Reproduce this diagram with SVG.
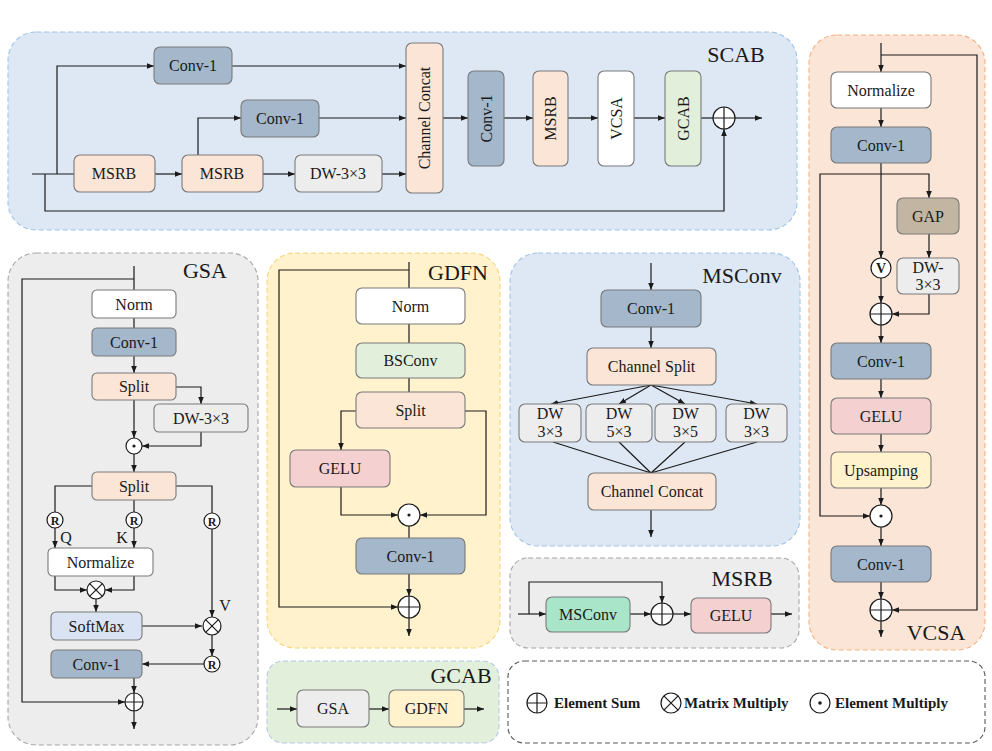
<svg xmlns="http://www.w3.org/2000/svg" width="992" height="751" viewBox="0 0 992 751">
<defs>
<marker id="ah" viewBox="0 0 10 10" refX="10" refY="5" markerWidth="7" markerHeight="7" markerUnits="userSpaceOnUse" orient="auto"><path d="M0,1 L10,5 L0,9 z" fill="#1a1a1a"/></marker>
<style>
text{font-family:"Liberation Serif","Times New Roman",serif;fill:#1a1a1a}
.t{font-size:16px;text-anchor:middle}
.ttl{font-size:22px;text-anchor:middle}
.lg{font-size:15px;font-weight:bold}
.r{font-size:12px;font-weight:bold;text-anchor:middle}
.n{stroke:#7a7a7a;stroke-width:1.1}
.conv{fill:#a4b7cb}
.peach{fill:#fbe5d6}
.gray{fill:#ededed}
.white{fill:#ffffff}
.green{fill:#e2efda}
.pink{fill:#f4d0d0}
.yellow{fill:#fff2cc}
.c{fill:none;stroke:#1a1a1a;stroke-width:1.2}
.a{marker-end:url(#ah)}
.sym{fill:#fff;stroke:#1a1a1a;stroke-width:1.2}
.panel{stroke-width:1.1;stroke-dasharray:5 3}
</style>
</defs>

<!-- Panels -->
<g id="panel-scab"><rect x="8" y="32" width="789" height="198" rx="28" fill="#dee8f5" stroke="#9dc3e6" class="panel"/><text x="736" y="62" class="ttl">SCAB</text></g>
<g id="panel-gsa"><rect x="8" y="253" width="250" height="492" rx="28" fill="#ededed" stroke="#a6a6a6" class="panel"/><text x="205" y="278" class="ttl">GSA</text></g>
<g id="panel-gdfn"><rect x="267" y="253" width="233" height="395" rx="28" fill="#fff2cc" stroke="#f6d57a" class="panel"/><text x="458" y="280" class="ttl">GDFN</text></g>
<g id="panel-msconv"><rect x="510" y="253" width="290" height="293" rx="28" fill="#dee8f5" stroke="#9dc3e6" class="panel"/><text x="742" y="283" class="ttl">MSConv</text></g>
<g id="panel-msrb"><rect x="510" y="558" width="289" height="90" rx="18" fill="#ededed" stroke="#a6a6a6" class="panel"/><text x="742" y="586" class="ttl">MSRB</text></g>
<g id="panel-vcsa"><rect x="809" y="35" width="176" height="615" rx="28" fill="#fbe5d6" stroke="#f4b183" class="panel"/><text x="936" y="640" class="ttl">VCSA</text></g>
<g id="panel-gcab"><rect x="267" y="661" width="232" height="82" rx="16" fill="#e2efda" stroke="#b4c7e7" class="panel"/><text x="461" y="683" class="ttl">GCAB</text></g>
<g id="panel-legend"><rect x="508" y="661" width="477" height="82" rx="16" fill="#ffffff" stroke="#595959" class="panel"/></g>

<!-- Connectors -->
<g id="connectors">
<!-- SCAB -->
<path class="c" d="M32,174 H74"/>
<path class="c a" d="M57,174 V66 H154"/>
<path class="c a" d="M45,174 V211 H724 V129"/>
<path class="c a" d="M232,66 H406"/>
<path class="c a" d="M155,174 H182"/>
<path class="c a" d="M198,155 V118 H241"/>
<path class="c a" d="M319,118 H406"/>
<path class="c a" d="M263,174 H295"/>
<path class="c a" d="M382,174 H406"/>
<path class="c a" d="M443,118 H468"/>
<path class="c a" d="M504,118 H533"/>
<path class="c a" d="M568,118 H598"/>
<path class="c a" d="M634,118 H665"/>
<path class="c" d="M701,118 H713"/>
<path class="c a" d="M735,118 H762"/>
<!-- GSA -->
<path class="c" d="M134,266 V290"/>
<path class="c a" d="M134,279 H22 V702 H125"/>
<path class="c" d="M134,318 V328"/>
<path class="c a" d="M134,356 V373"/>
<path class="c a" d="M176,387 H201 V404"/>
<path class="c a" d="M134,400 V438"/>
<path class="c a" d="M201,432 V446 H142"/>
<path class="c a" d="M134,454 V472"/>
<path class="c" d="M92,486 H55 V512"/>
<path class="c" d="M134,500 V512"/>
<path class="c" d="M176,486 H212 V513"/>
<path class="c a" d="M55,528 V548"/>
<path class="c a" d="M134,528 V548"/>
<path class="c a" d="M55,576 V590 H87"/>
<path class="c a" d="M134,576 V590 H105"/>
<path class="c a" d="M96,599 V612"/>
<path class="c a" d="M142,626 H202"/>
<path class="c a" d="M212,529 V617"/>
<path class="c a" d="M212,635 V656"/>
<path class="c a" d="M204,664 H142"/>
<path class="c a" d="M134,678 V693"/>
<path class="c a" d="M134,711 V729"/>
<!-- GDFN -->
<path class="c" d="M409,262 V288"/>
<path class="c a" d="M409,270 H279 V607 H398"/>
<path class="c" d="M409,324 V343"/>
<path class="c" d="M409,378 V392"/>
<path class="c a" d="M356,411 H341 V450"/>
<path class="c a" d="M465,411 H486 V515 H420"/>
<path class="c a" d="M341,487 V515 H398"/>
<path class="c" d="M409,526 V538"/>
<path class="c a" d="M409,574 V596"/>
<path class="c a" d="M409,618 V636"/>
<!-- MSConv -->
<path class="c a" d="M651,263 V290"/>
<path class="c a" d="M651,327 V348"/>
<path class="c a" d="M651,385 L551,404"/>
<path class="c a" d="M651,385 L619,404"/>
<path class="c a" d="M651,385 L685,404"/>
<path class="c a" d="M651,385 L757,404"/>
<path class="c" d="M553,442 L651,473 M619,442 L651,473 M685,442 L651,473 M757,442 L651,473"/>
<path class="c a" d="M651,510 V537"/>
<!-- MSRB -->
<path class="c a" d="M518,614 H546"/>
<path class="c a" d="M529,614 V582 H662 V603"/>
<path class="c a" d="M630,614 H651"/>
<path class="c a" d="M673,614 H691"/>
<path class="c a" d="M771,614 H792"/>
<!-- VCSA -->
<path class="c a" d="M881,43 V72"/>
<path class="c a" d="M881,55 H977 V610 H892"/>
<path class="c a" d="M881,108 V127"/>
<path class="c a" d="M881,163 V258"/>
<path class="c a" d="M881,174 H820 V516 H870"/>
<path class="c a" d="M881,174 H929 V198"/>
<path class="c a" d="M929,234 V258"/>
<path class="c a" d="M881,278 V303"/>
<path class="c a" d="M929,294 V314 H892"/>
<path class="c a" d="M881,325 V343"/>
<path class="c a" d="M881,379 V398"/>
<path class="c a" d="M881,434 V452"/>
<path class="c a" d="M881,488 V505"/>
<path class="c a" d="M881,527 V546"/>
<path class="c a" d="M881,582 V599"/>
<path class="c a" d="M881,621 V637"/>
<!-- GCAB -->
<path class="c a" d="M277,709 H297"/>
<path class="c a" d="M369,709 H389"/>
<path class="c a" d="M464,709 H484"/>
</g>

<!-- SCAB nodes -->
<g id="scab-conv1-top"><rect class="n conv" x="154" y="47" width="78" height="37" rx="6"/><text class="t" x="193" y="71">Conv-1</text></g>
<g id="scab-conv1-mid"><rect class="n conv" x="241" y="100" width="78" height="37" rx="6"/><text class="t" x="280" y="124">Conv-1</text></g>
<g id="scab-msrb1"><rect class="n peach" x="74" y="155" width="81" height="37" rx="6"/><text class="t" x="114" y="179">MSRB</text></g>
<g id="scab-msrb2"><rect class="n peach" x="182" y="155" width="81" height="37" rx="6"/><text class="t" x="222" y="179">MSRB</text></g>
<g id="scab-dw"><rect class="n gray" x="295" y="155" width="87" height="37" rx="6"/><text class="t" x="338" y="179">DW-3×3</text></g>
<g id="scab-concat"><rect class="n peach" x="406" y="43" width="37" height="150" rx="6"/><text class="t" transform="rotate(-90 424.5 118)" x="424.5" y="123.5">Channel Concat</text></g>
<g id="scab-conv1-v"><rect class="n conv" x="468" y="71" width="36" height="95" rx="6"/><text class="t" transform="rotate(-90 486 118.5)" x="486" y="124">Conv-1</text></g>
<g id="scab-msrb-v"><rect class="n peach" x="533" y="71" width="35" height="95" rx="6"/><text class="t" transform="rotate(-90 550.5 118.5)" x="550.5" y="124">MSRB</text></g>
<g id="scab-vcsa-v"><rect class="n white" x="598" y="71" width="36" height="95" rx="6"/><text class="t" transform="rotate(-90 616 118.5)" x="616" y="124">VCSA</text></g>
<g id="scab-gcab-v"><rect class="n green" x="665" y="71" width="36" height="95" rx="6"/><text class="t" transform="rotate(-90 683 118.5)" x="683" y="124">GCAB</text></g>
<g id="scab-sum"><circle class="sym" cx="724" cy="118" r="11"/><path class="c" d="M713,118 H735 M724,107 V129"/></g>

<!-- GSA nodes -->
<g id="gsa-norm"><rect class="n white" x="92" y="290" width="84" height="28" rx="5"/><text class="t" x="134" y="309.5">Norm</text></g>
<g id="gsa-conv1"><rect class="n conv" x="92" y="328" width="84" height="28" rx="5"/><text class="t" x="134" y="347.5">Conv-1</text></g>
<g id="gsa-split1"><rect class="n peach" x="92" y="373" width="84" height="27" rx="5"/><text class="t" x="134" y="392">Split</text></g>
<g id="gsa-dw"><rect class="n gray" x="154" y="404" width="94" height="28" rx="5"/><text class="t" x="201" y="423.5">DW-3×3</text></g>
<g id="gsa-mul1"><circle class="sym" cx="134" cy="446" r="8"/><circle cx="134" cy="446" r="1.6" fill="#1a1a1a"/></g>
<g id="gsa-split2"><rect class="n peach" x="92" y="472" width="84" height="28" rx="5"/><text class="t" x="134" y="491.5">Split</text></g>
<g id="gsa-r-q"><circle class="sym" cx="55" cy="520" r="8"/><text class="r" x="55" y="524.5">R</text></g>
<g id="gsa-r-k"><circle class="sym" cx="134" cy="520" r="8"/><text class="r" x="134" y="524.5">R</text></g>
<g id="gsa-r-v"><circle class="sym" cx="212" cy="521" r="8"/><text class="r" x="212" y="525.5">R</text></g>
<text x="66" y="543" style="font-size:16px;text-anchor:middle">Q</text>
<text x="122" y="543" style="font-size:16px;text-anchor:middle">K</text>
<g id="gsa-normalize"><rect class="n white" x="48" y="548" width="105" height="28" rx="5"/><text class="t" x="100.5" y="567.5">Normalize</text></g>
<g id="gsa-matmul1"><circle class="sym" cx="96" cy="590" r="9"/><path class="c" d="M89.6,583.6 L102.4,596.4 M102.4,583.6 L89.6,596.4"/></g>
<g id="gsa-softmax"><rect class="n" fill="#dae3f3" x="51" y="612" width="91" height="28" rx="5"/><text class="t" x="96.5" y="631.5">SoftMax</text></g>
<text x="225" y="611" style="font-size:16px;text-anchor:middle">V</text>
<g id="gsa-matmul2"><circle class="sym" cx="212" cy="626" r="9"/><path class="c" d="M205.6,619.6 L218.4,632.4 M218.4,619.6 L205.6,632.4"/></g>
<g id="gsa-r-out"><circle class="sym" cx="212" cy="664" r="8"/><text class="r" x="212" y="668.5">R</text></g>
<g id="gsa-conv1b"><rect class="n conv" x="51" y="650" width="91" height="28" rx="5"/><text class="t" x="96.5" y="669.5">Conv-1</text></g>
<g id="gsa-sum"><circle class="sym" cx="134" cy="702" r="9"/><path class="c" d="M125,702 H143 M134,693 V711"/></g>

<!-- GDFN nodes -->
<g id="gdfn-norm"><rect class="n white" x="356" y="288" width="109" height="36" rx="6"/><text class="t" x="410.5" y="311.5">Norm</text></g>
<g id="gdfn-bsconv"><rect class="n green" x="356" y="343" width="109" height="35" rx="6"/><text class="t" x="410.5" y="366">BSConv</text></g>
<g id="gdfn-split"><rect class="n peach" x="356" y="392" width="109" height="36" rx="6"/><text class="t" x="410.5" y="415.5">Split</text></g>
<g id="gdfn-gelu"><rect class="n pink" x="290" y="450" width="100" height="37" rx="6"/><text class="t" x="340" y="474">GELU</text></g>
<g id="gdfn-mul"><circle class="sym" cx="409" cy="515" r="11"/><circle cx="409" cy="515" r="1.6" fill="#1a1a1a"/></g>
<g id="gdfn-conv1"><rect class="n conv" x="356" y="538" width="109" height="36" rx="6"/><text class="t" x="410.5" y="561.5">Conv-1</text></g>
<g id="gdfn-sum"><circle class="sym" cx="409" cy="607" r="11"/><path class="c" d="M398,607 H420 M409,596 V618"/></g>

<!-- MSConv nodes -->
<g id="msconv-conv1"><rect class="n conv" x="601" y="290" width="100" height="37" rx="6"/><text class="t" x="651" y="314">Conv-1</text></g>
<g id="msconv-split"><rect class="n peach" x="587" y="348" width="129" height="37" rx="6"/><text class="t" x="651.5" y="372">Channel Split</text></g>
<g id="msconv-dw1"><rect class="n gray" x="519" y="404" width="62" height="38" rx="6"/><text class="t" x="550" y="419">DW</text><text class="t" x="550" y="437">3×3</text></g>
<g id="msconv-dw2"><rect class="n gray" x="586" y="404" width="66" height="38" rx="6"/><text class="t" x="619" y="419">DW</text><text class="t" x="619" y="437">5×3</text></g>
<g id="msconv-dw3"><rect class="n gray" x="655" y="404" width="61" height="38" rx="6"/><text class="t" x="685.5" y="419">DW</text><text class="t" x="685.5" y="437">3×5</text></g>
<g id="msconv-dw4"><rect class="n gray" x="726" y="404" width="61" height="38" rx="6"/><text class="t" x="756.5" y="419">DW</text><text class="t" x="756.5" y="437">3×3</text></g>
<g id="msconv-concat"><rect class="n peach" x="588" y="473" width="128" height="37" rx="6"/><text class="t" x="652" y="497">Channel Concat</text></g>

<!-- MSRB nodes -->
<g id="msrb-msconv"><rect class="n" fill="#a9e5c9" x="546" y="597" width="84" height="35" rx="6"/><text class="t" x="588" y="620">MSConv</text></g>
<g id="msrb-sum"><circle class="sym" cx="662" cy="614" r="11"/><path class="c" d="M651,614 H673 M662,603 V625"/></g>
<g id="msrb-gelu"><rect class="n pink" x="691" y="598" width="80" height="35" rx="6"/><text class="t" x="731" y="621">GELU</text></g>

<!-- VCSA nodes -->
<g id="vcsa-normalize"><rect class="n white" x="831" y="72" width="100" height="36" rx="6"/><text class="t" x="881" y="95.5">Normalize</text></g>
<g id="vcsa-conv1a"><rect class="n conv" x="831" y="127" width="100" height="36" rx="6"/><text class="t" x="881" y="150.5">Conv-1</text></g>
<g id="vcsa-gap"><rect class="n" fill="#c2b6a3" x="897" y="198" width="62" height="36" rx="6"/><text class="t" x="928" y="221.5">GAP</text></g>
<g id="vcsa-dw"><rect class="n gray" x="897" y="258" width="62" height="36" rx="6"/><text class="t" x="928" y="273">DW-</text><text class="t" x="928" y="290">3×3</text></g>
<g id="vcsa-v"><circle class="sym" cx="881" cy="268" r="10"/><text x="881" y="273" style="font-size:14px;font-weight:bold;text-anchor:middle">V</text></g>
<g id="vcsa-sum1"><circle class="sym" cx="881" cy="314" r="11"/><path class="c" d="M870,314 H892 M881,303 V325"/></g>
<g id="vcsa-conv1b"><rect class="n conv" x="831" y="343" width="100" height="36" rx="6"/><text class="t" x="881" y="366.5">Conv-1</text></g>
<g id="vcsa-gelu"><rect class="n pink" x="831" y="398" width="100" height="36" rx="6"/><text class="t" x="881" y="421.5">GELU</text></g>
<g id="vcsa-up"><rect class="n yellow" x="831" y="452" width="100" height="36" rx="6"/><text class="t" x="881" y="475.5">Upsamping</text></g>
<g id="vcsa-mul"><circle class="sym" cx="881" cy="516" r="11"/><circle cx="881" cy="516" r="1.6" fill="#1a1a1a"/></g>
<g id="vcsa-conv1c"><rect class="n conv" x="831" y="546" width="100" height="36" rx="6"/><text class="t" x="881" y="569.5">Conv-1</text></g>
<g id="vcsa-sum2"><circle class="sym" cx="881" cy="610" r="11"/><path class="c" d="M870,610 H892 M881,599 V621"/></g>

<!-- GCAB nodes -->
<g id="gcab-gsa"><rect class="n gray" x="297" y="690" width="72" height="37" rx="6"/><text class="t" x="333" y="714">GSA</text></g>
<g id="gcab-gdfn"><rect class="n yellow" x="389" y="690" width="75" height="37" rx="6"/><text class="t" x="426.5" y="714">GDFN</text></g>

<!-- Legend -->
<g id="legend">
<circle class="sym" cx="537" cy="703" r="10"/><path class="c" d="M527,703 H547 M537,693 V713"/>
<text class="lg" x="554" y="708">Element Sum</text>
<circle class="sym" cx="671" cy="703" r="10"/><path class="c" d="M663.9,695.9 L678.1,710.1 M678.1,695.9 L663.9,710.1"/>
<text class="lg" x="684" y="708">Matrix Multiply</text>
<circle class="sym" cx="820" cy="703" r="10"/><circle cx="820" cy="703" r="1.8" fill="#1a1a1a"/>
<text class="lg" x="835" y="708">Element Multiply</text>
</g>
</svg>
